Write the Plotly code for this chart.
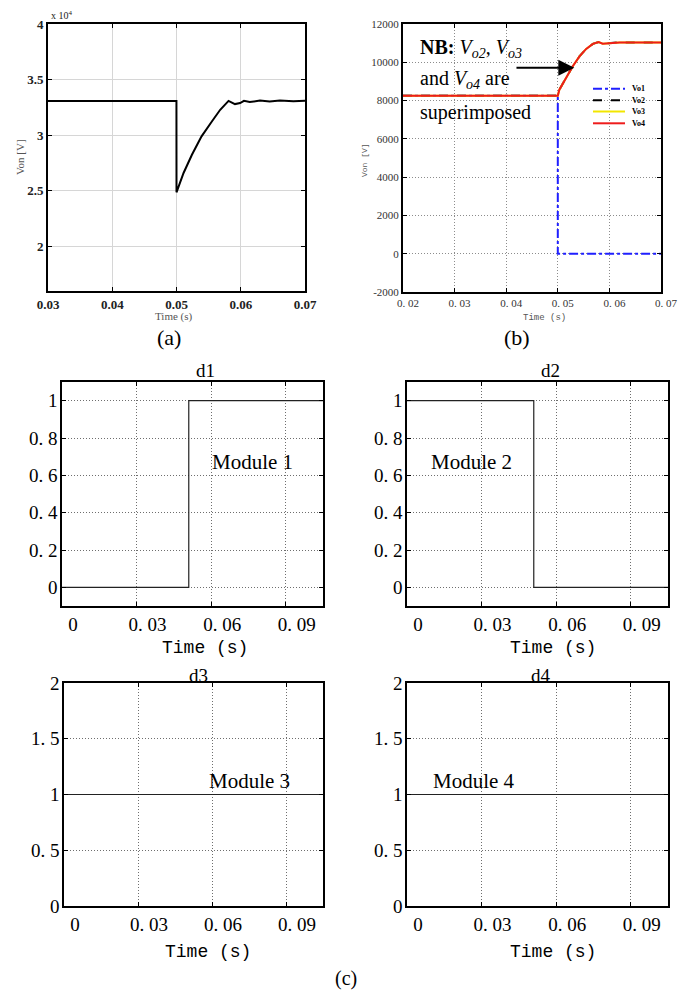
import plotly.graph_objects as go

# page body has an 8px margin: the figure is sized to fit the 692x1000 window
OX, OY = 8, 8
W, H = 692 - 2 * OX, 1000 - 2 * OY

# ---------------- data ----------------
# (a) output voltage of module n
t_a = [0.03, 0.04999, 0.05, 0.0511, 0.0524, 0.0539, 0.0555, 0.0568, 0.0581,
       0.0591, 0.0599, 0.0605, 0.0614, 0.0630, 0.0645, 0.0661, 0.0682, 0.07]
von_a = [33080, 33080, 24870, 26610, 28250, 29900, 31240, 32290, 33090,
         32800, 32890, 33090, 32980, 33120, 33030, 33120, 33060, 33090]

# (b) module output voltages
t_b = [0.02, 0.05, 0.0503, 0.0516, 0.0529, 0.0542, 0.0555, 0.0568, 0.0579,
       0.0587, 0.0600, 0.0620, 0.07]
vo2 = [8250, 8250, 8570, 9180, 9790, 10310, 10700, 10960, 11060, 10970, 11010, 11040, 11040]
vo3 = [8250, 8250, 8570, 9180, 9790, 10310, 10700, 10960, 11060, 10970, 11010, 11040, 11040]
vo4 = [8250, 8250, 8570, 9180, 9790, 10310, 10700, 10960, 11060, 10970, 11010, 11040, 11040]
t_vo1 = [0.02, 0.05, 0.05, 0.07]
vo1 = [8250, 8250, 0, 0]

# (c) duty signals
t_d = [0, 0.0510, 0.0510, 0.105]
d1 = [0, 0, 1, 1]
d2 = [1, 1, 0, 0]
t_d34 = [0, 0.105]
d3 = [1, 1]
d4 = [1, 1]

# tick labels
a_xticks = [0.03, 0.04, 0.05, 0.06, 0.07]
a_xtext = ["0.03", "0.04", "0.05", "0.06", "0.07"]
a_yticks = [20000, 25000, 30000, 35000, 40000]
a_ytext = ["2", "2.5", "3", "3.5", "4"]
b_xticks = [0.02, 0.03, 0.04, 0.05, 0.06, 0.07]
b_xtext = ["0. 02", "0. 03", "0. 04", "0. 05", "0. 06", "0. 07"]
b_yticks = [-2000, 0, 2000, 4000, 6000, 8000, 10000, 12000]
b_ytext = ["-2000", "0", "2000", "4000", "6000", "8000", "10000", "12000"]
c_xticks = [0, 0.03, 0.06, 0.09]
c_xtext = ["0", "0. 03", "0. 06", "0. 09"]
c12_yticks = [0, 0.2, 0.4, 0.6, 0.8, 1]
c12_ytext = ["0", "0. 2", "0. 4", "0. 6", "0. 8", "1"]
c34_yticks = [0, 0.5, 1, 1.5, 2]
c34_ytext = ["0", "0. 5", "1", "1. 5", "2"]

legend_names = ["Vo1", "Vo2", "Vo3", "Vo4"]
legend_colors = ["#1f1fff", "black", "#f2e600", "#ee1c1c"]
legend_dashes = ["dashdot", "dash", "solid", "solid"]

# ---------------- helpers (window pixels -> paper fractions) ----------------
def px(x):
    return (x - OX) / W

def py(y):
    return 1 - (y - OY) / H

def xd(a, b):
    return [px(a), px(b)]

def yd(top, bottom):
    return [py(bottom), py(top)]

SERIF = "Liberation Serif"
MONO = "Liberation Mono"

fig = go.Figure()

# (a)
fig.add_trace(go.Scatter(x=t_a, y=von_a, mode="lines", line=dict(color="black", width=2),
                         xaxis="x", yaxis="y", showlegend=False))
# (b)
b_series = [(t_vo1, vo1), (t_b, vo2), (t_b, vo3), (t_b, vo4)]
for (tx, ty), nm, col, ds in zip(b_series, legend_names, legend_colors, legend_dashes):
    fig.add_trace(go.Scatter(x=tx, y=ty, mode="lines", name=nm,
                             line=dict(color=col, width=2, dash=ds),
                             xaxis="x2", yaxis="y2", showlegend=False))
# (c)
for i, (tx, ty) in enumerate([(t_d, d1), (t_d, d2), (t_d34, d3), (t_d34, d4)]):
    n = i + 3
    fig.add_trace(go.Scatter(x=tx, y=ty, mode="lines", line=dict(color="#222222", width=1.2),
                             xaxis=f"x{n}", yaxis=f"y{n}", showlegend=False))

frame = dict(showline=True, mirror="ticks", linecolor="black", ticks="inside",
             tickcolor="black", zeroline=False, showgrid=True, automargin=False)

layout = dict(
    width=W, height=H, margin=dict(l=0, r=0, t=0, b=0, pad=0, autoexpand=False),
    paper_bgcolor="white", plot_bgcolor="white",
    showlegend=False,
)

layout["xaxis"] = dict(frame, domain=xd(48, 305), anchor="y", range=[0.03, 0.07],
                       tickvals=a_xticks, ticktext=a_xtext, linewidth=2, ticklen=4,
                       gridcolor="#d6d6d6", gridwidth=1,
                       tickfont=dict(family=SERIF, size=13, weight="bold", color="#222"))
layout["yaxis"] = dict(frame, domain=yd(24, 291), anchor="x", range=[16000, 40000],
                       tickvals=a_yticks, ticktext=a_ytext, linewidth=2, ticklen=4,
                       gridcolor="#d6d6d6", gridwidth=1,
                       tickfont=dict(family=SERIF, size=13, weight="bold", color="#222"))
layout["xaxis2"] = dict(frame, domain=xd(403, 661), anchor="y2", range=[0.02, 0.07],
                        tickvals=b_xticks, ticktext=b_xtext, linewidth=2, ticklen=4,
                        gridcolor="#8c8c8c", griddash="1px,2px", ticklabelshift=5,
                        tickfont=dict(family=SERIF, size=11, color="#333"))
layout["yaxis2"] = dict(frame, domain=yd(24, 292), anchor="x2", range=[-2000, 12000],
                        tickvals=b_yticks, ticktext=b_ytext, linewidth=2, ticklen=4,
                        gridcolor="#8c8c8c", griddash="1px,2px",
                        tickfont=dict(family=SERIF, size=11, color="#333"))

panels = [
    (3, xd(62, 323), yd(382, 606), [-0.1, 1.1], c12_yticks, c12_ytext),
    (4, xd(407, 668), yd(382, 606), [-0.1, 1.1], c12_yticks, c12_ytext),
    (5, xd(64, 323), yd(683, 906), [0, 2], c34_yticks, c34_ytext),
    (6, xd(407, 668), yd(683, 906), [0, 2], c34_yticks, c34_ytext),
]
for n, dx, dy, yr, yt, ytt in panels:
    layout[f"xaxis{n}"] = dict(frame, domain=dx, anchor=f"y{n}", range=[0, 0.105],
                               tickvals=c_xticks, ticktext=c_xtext, linewidth=1.5, ticklen=4,
                               gridcolor="#6e6e6e", griddash="1px,2px", ticklabelshift=11,
                               tickfont=dict(family=SERIF, size=19, color="black"))
    layout[f"yaxis{n}"] = dict(frame, domain=dy, anchor=f"x{n}", range=yr,
                               tickvals=yt, ticktext=ytt, linewidth=1.5, ticklen=4,
                               gridcolor="#6e6e6e", griddash="1px,2px", ticklabelstandoff=-1,
                               tickfont=dict(family=SERIF, size=19, color="black"))

fig.update_layout(**layout)

def pa(text, x, y, size, family=SERIF, color="black", xanchor="center", yanchor="middle",
       textangle=0):
    fig.add_annotation(text=text, x=px(x), y=py(y), xref="paper", yref="paper",
                       showarrow=False, xanchor=xanchor, yanchor=yanchor, textangle=textangle,
                       font=dict(family=family, size=size, color=color))

# panel (a) texts
pa("x 10<sup>4</sup>", 49, 15, 10, xanchor="left", color="#222")
pa("Von [V]", 20, 157, 11, color="#555", textangle=-90)
pa("Time (s)", 174, 316, 11, color="#555")
pa("(a)", 169, 337, 22)

# panel (b) texts
pa("Von [V]", 364, 160, 8, family=MONO, color="#555", textangle=-90)
pa("Time (s)", 544, 318, 9, family=MONO, color="#555")
pa("(b)", 517, 337, 22)
pa("<b>NB:</b> <i>V<sub>o2</sub></i>, <i>V<sub>o3</sub></i>", 418, 48, 20, xanchor="left")
pa("and <i>V<sub>o4</sub></i> are", 418, 80, 20, xanchor="left")
pa("superimposed", 418, 112, 20, xanchor="left")
fig.add_annotation(x=0.0532, y=9720, ax=0.0417, ay=9720, xref="x2", yref="y2",
                   axref="x2", ayref="y2", showarrow=True, arrowhead=2, arrowsize=1.6,
                   arrowwidth=2, arrowcolor="black", text="")

# legend of (b), drawn as line samples + labels
leg_y = [88.7, 100.3, 111.5, 123.3]
for nm, col, ds, yy in zip(legend_names, legend_colors, legend_dashes, leg_y):
    fig.add_shape(type="line", xref="paper", yref="paper", x0=px(593), x1=px(625),
                  y0=py(yy), y1=py(yy), line=dict(color=col, width=2, dash=ds))
    pa(f"<b>{nm}</b>", 630, yy, 8, xanchor="left")

# panel (c) texts
pa("d1", 205, 370, 19)
pa("d2", 550, 370, 19)
pa("d3", 198, 675, 19)
pa("d4", 541, 675, 19)
pa("Module 1", 252, 462, 21)
pa("Module 2", 471, 462, 21)
pa("Module 3", 249, 781, 21)
pa("Module 4", 474, 781, 21)
for x, y in [(205, 648), (553, 648), (208, 952), (553, 952)]:
    pa("Time (s)", x, y, 18, family=MONO)
pa("(c)", 346, 992, 20, yanchor="bottom")

fig.write_html("out.html")
